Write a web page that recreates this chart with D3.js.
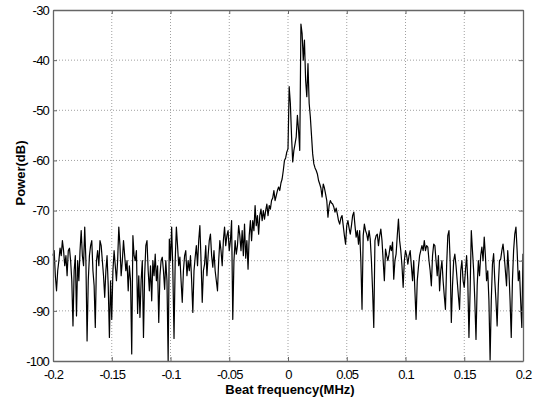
<!DOCTYPE html>
<html>
<head>
<meta charset="utf-8">
<script src="https://cdn.jsdelivr.net/npm/d3@7"></script>
<style>
  body { margin: 0; background: #fff; }
  svg { display: block; }
  .tick text { font-family: "Liberation Sans Narrow", "Arial Narrow", "Liberation Sans", sans-serif; font-size: 13px; letter-spacing: -0.8px; fill: #000; }
  .title { font-family: "Liberation Sans", Arial, sans-serif; font-weight: bold; font-size: 13px; fill: #000; }
</style>
</head>
<body>
<div id="chart"></div>
<script>
var width = 534, height = 405;
var margin = { top: 10, right: 11, bottom: 44, left: 53 };

// frequency axis: -0.2 .. 0.2 MHz, one sample every 0.001 MHz
var freqStart = -0.2, freqStep = 0.001;
var xTicks = [-0.2, -0.15, -0.1, -0.05, 0, 0.05, 0.1, 0.15, 0.2];
var xTickLabels = ["-0.2", "-0.15", "-0.1", "-0.05", "0", "0.05", "0.1", "0.15", "0.2"];
var yTicks = [-100, -90, -80, -70, -60, -50, -40, -30];
var yTickLabels = ["-100", "-90", "-80", "-70", "-60", "-50", "-40", "-30"];

// power (dB)
var power = [
  -79, -78, -83, -86, -82, -80, -77.5, -79, -76, -78,
  -81, -79, -83, -78, -77.5, -80, -84, -93, -82, -79,
  -91, -80, -84, -78, -74, -79, -81, -73.3, -80, -96,
  -84, -79, -77, -76, -82, -85, -93.3, -80, -78, -81,
  -76, -77, -80, -83, -87.3, -82, -79, -85, -95.3, -84,
  -91.7, -82, -78, -81, -84, -80, -73.3, -77, -83, -80,
  -76, -79, -82, -80, -86, -81, -84, -98.6, -75, -79,
  -80, -78, -90.5, -83, -91.3, -84, -80, -95.3, -83, -77,
  -76, -82, -86, -81, -88, -80, -83, -78.7, -84, -81,
  -92.3, -83, -80, -79.3, -82, -85.7, -80, -84, -100, -75.7,
  -80, -73.3, -82, -95.5, -80, -73.3, -77, -81, -79.3, -84,
  -88.3, -82, -79, -78, -83, -80, -82, -79, -84, -90.3,
  -82, -79.3, -77, -81, -76, -73, -80, -88.3, -82, -80.7,
  -77, -83, -79, -76, -74.7, -79, -81.3, -78, -82, -84,
  -86, -80, -76, -78, -81, -76, -73.3, -77, -75, -74,
  -78, -76, -72, -91.7, -80, -76, -78.7, -77, -73, -75,
  -78, -74, -79, -72.7, -79.5, -76, -81.7, -75, -72, -76,
  -72, -74, -69, -73, -71, -74.7, -71, -69.7, -72, -70,
  -71.7, -70, -68.7, -71, -69, -69.7, -68, -67.5, -66, -68,
  -67, -66, -65.3, -66, -64.5, -63.7, -62, -60, -59.5, -58.3,
  -57.7, -45.3, -48.6, -55, -60.3, -58, -56.7, -55.3, -51, -54,
  -58, -32.8, -34.7, -40, -36, -44, -47.3, -40.7, -48.6, -51.3,
  -55, -58.7, -60.7, -61.5, -62, -62.7, -64, -64.7, -65.5, -67.3,
  -64.7, -65.5, -66.7, -68, -71.3, -69, -68, -68.5, -68.7, -69.3,
  -70.3, -69.5, -70.7, -72, -72.7, -71.5, -71, -73, -75, -76.7,
  -73, -72, -73.5, -74.7, -73, -71, -70.3, -73, -75.3, -74,
  -76.7, -74, -80, -89.7, -75, -72.7, -74, -74.7, -76, -74,
  -75.7, -80, -86, -93.3, -76, -75, -74.7, -77, -75, -73.7,
  -76, -80, -84, -77.7, -79, -80, -78.7, -77, -78, -76.3,
  -83.7, -80, -78.7, -75, -71.7, -76, -78, -81, -85.3, -80,
  -78, -79, -80.7, -79, -78, -81, -84, -80, -86, -91.7,
  -84, -81.3, -79, -78, -77, -78, -76, -78, -77, -77.3,
  -80, -82, -85, -79, -76.7, -77, -80, -83, -79, -86,
  -82, -80, -84, -87, -89.7, -81, -75, -74, -80, -92.3,
  -85, -80, -78.7, -81, -84, -87, -89.7, -82, -80, -84,
  -85.3, -82, -79, -84, -95.3, -86, -74, -78, -82, -88,
  -95.7, -85, -80, -83, -79, -77.3, -80, -75.3, -79, -84,
  -82, -88, -99.8, -88, -80.7, -78.6, -84, -88, -93, -85,
  -80, -79.7, -78, -76.7, -79, -82, -85, -78, -82, -88,
  -95.3, -84, -78, -74.7, -73.3, -78, -84, -82, -88, -93.3,
  -78.6
];

var data = power.map(function(p, i) {
  return { f: freqStart + i * freqStep, p: p };
});

var svg = d3.select("#chart").append("svg")
    .attr("width", width)
    .attr("height", height);

var w = width - margin.left - margin.right,
    h = height - margin.top - margin.bottom;

var g = svg.append("g")
    .attr("transform", "translate(" + margin.left + "," + margin.top + ")");

var x = d3.scaleLinear().domain([-0.2, 0.2]).range([0, w]);
var y = d3.scaleLinear().domain([-100, -30]).range([h, 0]);

// dotted grid
g.append("g").selectAll("line")
    .data(xTicks.slice(1, -1))
    .enter().append("line")
    .attr("x1", d => x(d)).attr("x2", d => x(d))
    .attr("y1", 0).attr("y2", h)
    .attr("stroke", "#a0a0a0")
    .attr("stroke-dasharray", "1,2");

g.append("g").selectAll("line")
    .data(yTicks.slice(1, -1))
    .enter().append("line")
    .attr("x1", 0).attr("x2", w)
    .attr("y1", d => y(d)).attr("y2", d => y(d))
    .attr("stroke", "#a0a0a0")
    .attr("stroke-dasharray", "1,2");

// spectrum
var line = d3.line()
    .x(d => x(d.f))
    .y(d => y(d.p));

g.append("path")
    .datum(data)
    .attr("d", line)
    .attr("fill", "none")
    .attr("stroke", "#000")
    .attr("stroke-width", 1.2)
    .attr("stroke-linejoin", "round");

// axes (ticks pointing inward, like matlab)
var xAxis = d3.axisBottom(x).tickValues(xTicks)
    .tickFormat((d, i) => xTickLabels[i])
    .tickSizeInner(-4).tickSizeOuter(0).tickPadding(9);
var yAxis = d3.axisLeft(y).tickValues(yTicks)
    .tickFormat((d, i) => yTickLabels[i])
    .tickSizeInner(-4).tickSizeOuter(0).tickPadding(4);

var gx = g.append("g").attr("transform", "translate(0," + h + ")").call(xAxis);
var gy = g.append("g").call(yAxis);
var gx2 = g.append("g").call(d3.axisTop(x).tickValues(xTicks).tickFormat("").tickSizeInner(-4).tickSizeOuter(0));
var gy2 = g.append("g").attr("transform", "translate(" + w + ",0)")
    .call(d3.axisRight(y).tickValues(yTicks).tickFormat("").tickSizeInner(-4).tickSizeOuter(0));

[gx, gy, gx2, gy2].forEach(function(a) {
  a.selectAll(".domain").attr("stroke", "#666").attr("stroke-width", 1.3);
  a.selectAll(".tick line").attr("stroke", "#666");
});

// axis titles
svg.append("text")
    .attr("class", "title")
    .attr("x", 290)
    .attr("y", 394)
    .attr("text-anchor", "middle")
    .text("Beat frequency(MHz)");

svg.append("text")
    .attr("class", "title")
    .attr("transform", "translate(25,173) rotate(-90)")
    .attr("text-anchor", "middle")
    .text("Power(dB)");
</script>
</body>
</html>
